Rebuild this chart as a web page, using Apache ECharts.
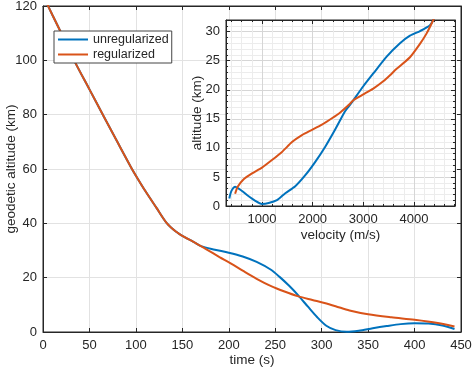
<!DOCTYPE html>
<html><head><meta charset="utf-8">
<script src="https://cdn.jsdelivr.net/npm/echarts@6/dist/echarts.min.js"></script>
<style>html,body{margin:0;padding:0;background:#fff}#c{width:474px;height:372px}</style>
</head><body><div id="c"></div>
<script>
// main plot: time (s) vs geodetic altitude (km)
const timeReg = [3,10,20,33.5,50,65,80,95,101,110,122,133,143,152,162,175,190,202,215,230,245,260,275,290,303,315,330,350,375,400,425,443];
const altReg  = [121.8,116.8,109.8,100,89.3,79.6,70.0,60.5,57,52,45.8,40.2,37.0,35.0,33.2,30.6,27.6,25.3,22.6,19.6,17.0,14.9,13.1,11.8,10.7,9.5,7.9,6.5,5.4,4.5,3.3,2.0];
const timeUnreg = [3,10,20,33.5,50,65,80,95,101,110,122,133,143,152,162,170,185,200,215,230,245,255,265,275,285,295,305,315,327,340,355,370,385,400,415,430,443];
const altUnreg  = [121.8,116.8,109.8,100,89.3,79.6,70.0,60.5,57,52,45.8,40.2,37.0,35.0,33.2,31.6,30.3,29.2,27.8,25.8,23.0,20.2,17.0,13.4,9.4,5.5,2.3,0.7,0.1,0.5,1.4,2.2,2.9,3.2,3.1,2.4,1.1];
// inset: velocity (m/s) vs altitude (km)
const velUnreg  = [355,380,410,470,540,620,704,868,1000,1132,1296,1460,1657,1855,2052,2249,2447,2545,2640,2737,2803,3000,3197,3461,3724,3921,4120,4316,4400];
const altVUnreg = [1.3,2.2,2.8,3.3,3.0,2.5,1.9,0.9,0.35,0.5,1.0,2.2,3.4,5.3,7.6,10.2,13.2,14.8,16.3,17.4,18.2,20.6,22.8,25.7,28.0,29.3,30.1,31.1,32.3];
const velReg    = [470,520,639,803,1000,1197,1395,1592,1789,1987,2184,2381,2545,2737,2803,3000,3197,3400,3526,3658,3921,4118,4250,4382,4410];
const altVReg   = [2.1,3.3,4.6,5.6,6.6,7.9,9.3,11.0,12.2,13.1,14.0,15.1,16.1,17.6,18.2,19.2,20.2,21.5,22.5,23.6,25.6,27.9,29.7,32.0,32.6];
const xTicksMain = {min:0,max:450,interval:50};
const yTicksMain = {min:0,max:120,interval:20};
const xInset = {min:290,max:4810};
const yInset = {min:0,max:32,interval:5};
const names = ['unregularized','regularized'];
const colors = ['#0072BD','#D95319'];

const pair = (a,b)=>a.map((v,i)=>[v,b[i]]);
const TXT = '#262626', FONT = 'Liberation Sans';
const lab = {color:TXT,fontSize:13,fontFamily:FONT,formatter:(v)=>String(v)};
const nameStyle = {color:TXT,fontSize:13.5,fontFamily:FONT};
function ax(extra){
  return Object.assign({
    type:'value',
    nameMoveOverlap:false,
    axisLine:{show:true,onZero:false,lineStyle:{color:TXT,width:1}},
    axisTick:{show:true,inside:true,length:4,lineStyle:{color:TXT}},
    axisLabel:Object.assign({},lab),
    splitLine:{show:true,lineStyle:{color:'#e2e2e2',width:1}}
  },extra);
}
function dup(extra){
  return ax(Object.assign({axisLabel:{show:false},splitLine:{show:false}},extra));
}
const chart = echarts.init(document.getElementById('c'),null,{renderer:'canvas'});
chart.setOption({
  animation:false,
  backgroundColor:'#fff',
  legend:{
    data:names, orient:'vertical', left:54, top:31, z:10,
    padding:[1,3,1,4], itemGap:0, itemWidth:30, itemHeight:2, icon:'rect',
    textStyle:{color:TXT,fontSize:12.5,fontFamily:FONT,lineHeight:15},
    borderColor:'#444', borderWidth:1, backgroundColor:'#fff'
  },
  grid:[
    {left:43,right:13,top:6,bottom:40,containLabel:false,outerBoundsMode:'none',show:true,borderColor:TXT,borderWidth:1,backgroundColor:'transparent',z:0},
    {left:226,right:19,top:20,bottom:166,containLabel:false,outerBoundsMode:'none',show:true,borderColor:TXT,borderWidth:1,backgroundColor:'#fff',z:5}
  ],
  xAxis:[
    ax(Object.assign({gridIndex:0,position:'bottom',name:'time (s)',nameLocation:'middle',nameGap:21,nameTextStyle:nameStyle,axisLabel:Object.assign({},lab,{margin:7})},xTicksMain)),
    dup(Object.assign({gridIndex:0,position:'top'},xTicksMain)),
    ax(Object.assign({gridIndex:1,position:'bottom',z:6,name:'velocity (m/s)',nameLocation:'middle',nameGap:22,nameTextStyle:nameStyle,
      axisLabel:Object.assign({},lab,{margin:7,showMinLabel:false,showMaxLabel:false}),
      minorTick:{show:true,splitNumber:5,length:2,lineStyle:{color:TXT}},
      minorSplitLine:{show:true,lineStyle:{color:'#ececec',width:1}},
      splitLine:{show:true,lineStyle:{color:'#d6d6d6',width:1}}},xInset)),
    dup(Object.assign({gridIndex:1,position:'top',z:6,minorTick:{show:true,splitNumber:5,length:2,lineStyle:{color:TXT}}},xInset))
  ],
  yAxis:[
    ax(Object.assign({gridIndex:0,position:'left',name:'geodetic altitude (km)',nameLocation:'middle',nameGap:25,nameTextStyle:nameStyle,axisLabel:Object.assign({},lab,{margin:6})},yTicksMain)),
    dup(Object.assign({gridIndex:0,position:'right'},yTicksMain)),
    ax(Object.assign({gridIndex:1,position:'left',z:6,name:'altitude (km)',nameLocation:'middle',nameGap:22,nameTextStyle:nameStyle,
      axisLabel:Object.assign({},lab,{margin:6,showMaxLabel:false}),
      minorTick:{show:true,splitNumber:5,length:2,lineStyle:{color:TXT}},
      minorSplitLine:{show:true,lineStyle:{color:'#ececec',width:1}},
      splitLine:{show:true,lineStyle:{color:'#d6d6d6',width:1}}},yInset)),
    dup(Object.assign({gridIndex:1,position:'right',z:6,minorTick:{show:true,splitNumber:5,length:2,lineStyle:{color:TXT}}},yInset))
  ],
  series:[
    {name:names[0],type:'line',xAxisIndex:0,yAxisIndex:0,data:pair(timeUnreg,altUnreg),showSymbol:false,symbol:'none',smooth:0.3,z:2,lineStyle:{color:colors[0],width:2},itemStyle:{color:colors[0]}},
    {name:names[1],type:'line',xAxisIndex:0,yAxisIndex:0,data:pair(timeReg,altReg),showSymbol:false,symbol:'none',smooth:0.3,z:3,lineStyle:{color:colors[1],width:2},itemStyle:{color:colors[1]}},
    {name:names[0],type:'line',xAxisIndex:2,yAxisIndex:2,data:pair(velUnreg,altVUnreg),showSymbol:false,symbol:'none',smooth:0.2,z:7,lineStyle:{color:colors[0],width:2},itemStyle:{color:colors[0]}},
    {name:names[1],type:'line',xAxisIndex:2,yAxisIndex:2,data:pair(velReg,altVReg),showSymbol:false,symbol:'none',smooth:0.2,z:8,lineStyle:{color:colors[1],width:2},itemStyle:{color:colors[1]}}
  ]
});
</script></body></html>
